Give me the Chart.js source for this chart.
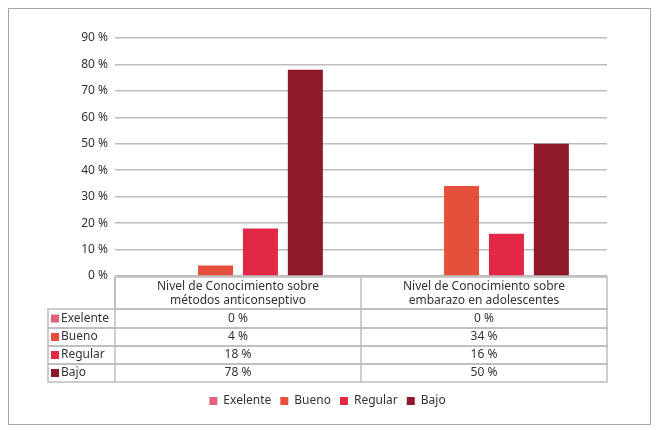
<!DOCTYPE html>
<html>
<head>
<meta charset="utf-8">
<script src="https://cdn.jsdelivr.net/npm/chart.js@4.4.0/dist/chart.umd.min.js"></script>
<style>
  html, body { margin: 0; padding: 0; background: #fff; }
  #wrap {
    position: absolute; left: 8px; top: 8px;
    width: 641px; height: 415px;
    border: 1px solid #a6a6a6;
  }
</style>
</head>
<body>
<div id="wrap"><canvas id="chart"></canvas></div>
<script>
const categories = [
  ['Nivel de Conocimiento sobre', 'métodos anticonseptivo'],
  ['Nivel de Conocimiento sobre', 'embarazo en adolescentes']
];
const seriesNames = ['Exelente', 'Bueno', 'Regular', 'Bajo'];
const exelente = [0, 0];
const bueno = [4, 34];
const regular = [18, 16];
const bajo = [78, 50];
const yTicks = [0, 10, 20, 30, 40, 50, 60, 70, 80, 90];

const colors = ['#e0627a', '#e5503d', '#e22846', '#8f1829'];
const FONT = '"Noto Sans", sans-serif';
const gridColor = '#bcbcbc';

const seriesValues = [exelente, bueno, regular, bajo];

// data table drawn under the plot, aligned with the category scale
const dataTable = {
  id: 'dataTable',
  afterDraw(chart) {
    const ctx = chart.ctx;
    const area = chart.chartArea;
    const x = chart.scales.x;
    const catW = (area.right - area.left) / categories.length;
    const labelLeft = area.left - 67;
    const top = area.bottom + 1;
    const headH = 32;
    const rowH = [19, 18, 18, 18];

    ctx.save();
    ctx.strokeStyle = gridColor;
    ctx.lineWidth = 1.5;
    ctx.font = '12px ' + FONT;
    ctx.fillStyle = '#333';
    ctx.textBaseline = 'middle';

    // header row
    ctx.strokeRect(area.left, top, area.right - area.left, headH);
    categories.forEach((lines, i) => {
      const cx = x.getPixelForValue(i);
      if (i > 0) {
        ctx.beginPath();
        ctx.moveTo(area.left + catW * i, top);
        ctx.lineTo(area.left + catW * i, top + headH + rowH.reduce((a, b) => a + b, 0));
        ctx.stroke();
      }
      ctx.textAlign = 'center';
      lines.forEach((l, k) => ctx.fillText(l, cx, top + 10 + k * 14));
    });

    // body rows
    let y = top + headH;
    seriesNames.forEach((name, s) => {
      const h = rowH[s];
      ctx.strokeRect(labelLeft, y, area.right - labelLeft, h);
      ctx.fillStyle = colors[s];
      ctx.fillRect(labelLeft + 3, y + h / 2 - 4, 8, 8);
      ctx.fillStyle = '#333';
      ctx.textAlign = 'left';
      ctx.fillText(name, labelLeft + 13, y + h / 2);
      ctx.textAlign = 'center';
      seriesValues[s].forEach((v, i) => {
        ctx.fillText(v + ' %', x.getPixelForValue(i), y + h / 2);
      });
      y += h;
    });
    ctx.beginPath();
    ctx.moveTo(area.left, top);
    ctx.lineTo(area.left, y);
    ctx.stroke();
    ctx.restore();
  }
};

new Chart(document.getElementById('chart'), {
  type: 'bar',
  data: {
    labels: categories.map(c => c.join(' ')),
    datasets: seriesNames.map((name, s) => ({
      label: name,
      data: seriesValues[s],
      backgroundColor: colors[s],
      categoryPercentage: 0.73,
      barPercentage: 0.78
    }))
  },
  options: {
    responsive: true,
    maintainAspectRatio: false,
    animation: false,
    layout: { padding: { left: 39, right: 43, top: 29, bottom: 7 } },
    plugins: {
      tooltip: { enabled: false },
      legend: {
        position: 'bottom',
        labels: {
          boxWidth: 8,
          boxHeight: 8,
          padding: 9,
          color: '#333',
          font: { family: FONT, size: 12 }
        }
      }
    },
    scales: {
      x: {
        grid: { display: false },
        border: { display: false },
        ticks: { display: false },
        afterFit(scale) { scale.height = 110; }
      },
      y: {
        min: 0,
        max: 90,
        afterBuildTicks(scale) { scale.ticks = yTicks.map(v => ({ value: v })); },
        afterFit(scale) { scale.width = 67; },
        grid: { color: gridColor, drawTicks: false, lineWidth: 1.5 },
        border: { display: false },
        ticks: {
          padding: 7,
          color: '#333',
          font: { family: FONT, size: 12 },
          callback: v => v + ' %'
        }
      }
    }
  },
  plugins: [dataTable]
});
</script>
</body>
</html>
